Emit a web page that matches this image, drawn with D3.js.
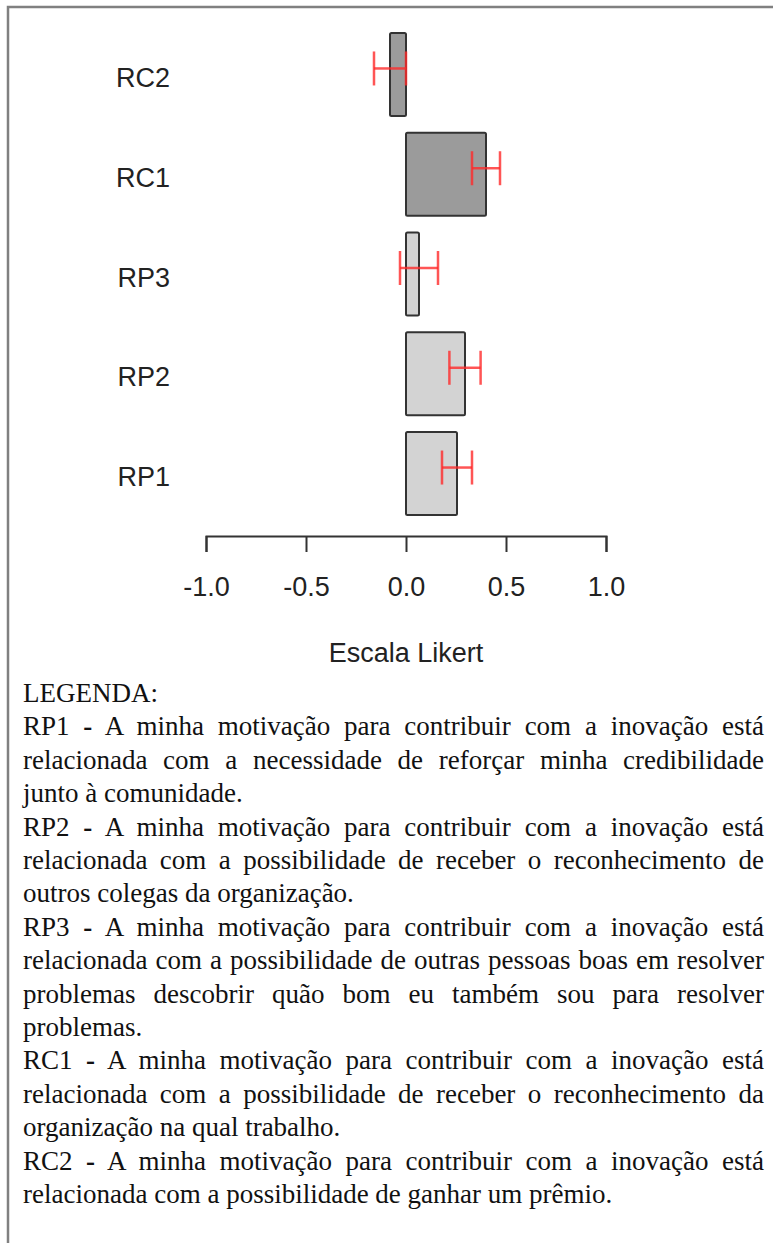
<!DOCTYPE html>
<html>
<head>
<meta charset="utf-8">
<script src="https://cdn.jsdelivr.net/npm/d3@7"></script>
<style>
  body { margin: 0; background: #fff; }
  svg { display: block; }
</style>
</head>
<body>
<svg id="chart" width="773" height="1243"></svg>
<script>
// chart values
const categories = ["RC2", "RC1", "RP3", "RP2", "RP1"];
const means = [-0.08, 0.40, 0.065, 0.295, 0.255];
const errors = [0.08, 0.07, 0.095, 0.078, 0.075];
const tickValues = [-1.0, -0.5, 0.0, 0.5, 1.0];
const axisTitle = "Escala Likert";

// legend text, one entry per printed line
const legendTitle = "LEGENDA:";
const legendCodes = ["RP1", "RP2", "RP3", "RC1", "RC2"];
const legendLines = [
    ["A minha motivação para contribuir com a inovação está",
     "relacionada com a necessidade de reforçar minha credibilidade",
     "junto à comunidade."],
    ["A minha motivação para contribuir com a inovação está",
     "relacionada com a possibilidade de receber o reconhecimento de",
     "outros colegas da organização."],
    ["A minha motivação para contribuir com a inovação está",
     "relacionada com a possibilidade de outras pessoas boas em resolver",
     "problemas descobrir quão bom eu também sou para resolver",
     "problemas."],
    ["A minha motivação para contribuir com a inovação está",
     "relacionada com a possibilidade de receber o reconhecimento da",
     "organização na qual trabalho."],
    ["A minha motivação para contribuir com a inovação está",
     "relacionada com a possibilidade de ganhar um prêmio."]
];

const sans = "'Liberation Sans', Arial, sans-serif";
const serif = "'Liberation Serif', 'Times New Roman', serif";
const groupFill = {RC: "#9b9b9b", RP: "#d3d3d3"};

const svg = d3.select("#chart");

// frame around the figure (right and bottom run off the picture)
svg.append("rect")
    .attr("x", 8).attr("y", 7)
    .attr("width", 800).attr("height", 1300)
    .attr("fill", "none")
    .attr("stroke", "#808080")
    .attr("stroke-width", 2.5);

const x = d3.scaleLinear().domain([-1, 1]).range([206, 606]);
const y = d3.scaleBand().domain(categories).range([16.2, 531.8]).padding(0.168);
const bw = y.bandwidth();

const rows = categories.map((c, i) => ({cat: c, mean: means[i], err: errors[i]}));

//bars
svg.selectAll("rect.bar")
    .data(rows)
    .enter()
    .append("rect")
    .attr("class", "bar")
    .attr("x", d => x(Math.min(0, d.mean)))
    .attr("y", d => y(d.cat))
    .attr("width", d => Math.abs(x(d.mean) - x(0)))
    .attr("height", bw)
    .attr("rx", 1.5)
    .attr("fill", d => groupFill[d.cat.slice(0, 2)])
    .attr("stroke", "#333")
    .attr("stroke-width", 2);

//error bars, drawn a little above the bar middle
const eb = svg.append("g")
    .attr("stroke", "#ff2a2a")
    .attr("stroke-opacity", 0.8)
    .attr("stroke-width", 2.5)
    .attr("fill", "none");
rows.forEach(d => {
    const cy = y(d.cat) + bw / 2 - 6;
    const x0 = x(d.mean - d.err), x1 = x(d.mean + d.err);
    eb.append("line").attr("x1", x0).attr("x2", x1).attr("y1", cy).attr("y2", cy);
    eb.append("line").attr("x1", x0).attr("x2", x0).attr("y1", cy - 17).attr("y2", cy + 17);
    eb.append("line").attr("x1", x1).attr("x2", x1).attr("y1", cy - 17).attr("y2", cy + 17);
});

//category labels
svg.selectAll("text.cat")
    .data(rows)
    .enter()
    .append("text")
    .attr("class", "cat")
    .attr("x", 170)
    .attr("y", d => y(d.cat) + bw / 2 + 12.5)
    .attr("text-anchor", "end")
    .style("font-family", sans)
    .style("font-size", "27px")
    .attr("fill", "#222")
    .text(d => d.cat);

//x axis
const axis = svg.append("g")
    .attr("transform", "translate(0,536)")
    .call(d3.axisBottom(x)
        .tickValues(tickValues)
        .tickSize(16)
        .tickSizeOuter(16)
        .tickPadding(25)
        .tickFormat(d => d.toFixed(1)));
axis.select(".domain").attr("stroke", "#333").attr("stroke-width", 2);
axis.selectAll(".tick line").attr("stroke", "#333").attr("stroke-width", 2);
axis.selectAll(".tick text")
    .style("font-family", sans)
    .style("font-size", "27px")
    .attr("fill", "#222");

svg.append("text")
    .attr("x", x(0))
    .attr("y", 662)
    .attr("text-anchor", "middle")
    .style("font-family", sans)
    .style("font-size", "27px")
    .attr("fill", "#222")
    .text(axisTitle);

//legend
const leftX = 23, rightX = 764, lineY0 = 702, lineStep = 33.4;
let lineNo = 0;
function addLine(parts, justify) {
    const t = svg.append("text")
        .attr("x", leftX)
        .attr("y", lineY0 + lineNo * lineStep)
        .style("font-family", serif)
        .style("font-size", "27px")
        .attr("fill", "#111")
        .attr("xml:space", "preserve");
    parts.forEach(p => {
        t.append("tspan").attr("font-weight", p.bold ? "bold" : null).text(p.s);
    });
    if (justify) {
        const full = parts.map(p => p.s).join("");
        const gaps = (full.match(/ /g) || []).length;
        const w = t.node().getComputedTextLength();
        t.style("word-spacing", ((rightX - leftX - w) / gaps) + "px");
    }
    lineNo++;
}

addLine([{s: legendTitle}], false);
legendCodes.forEach((code, k) => {
    const lines = legendLines[k];
    lines.forEach((ln, j) => {
        const last = j === lines.length - 1;
        if (j === 0) {
            addLine([{s: code + " "}, {s: "-", bold: true}, {s: " " + ln}], !last);
        } else {
            addLine([{s: ln}], !last);
        }
    });
});
</script>
</body>
</html>
